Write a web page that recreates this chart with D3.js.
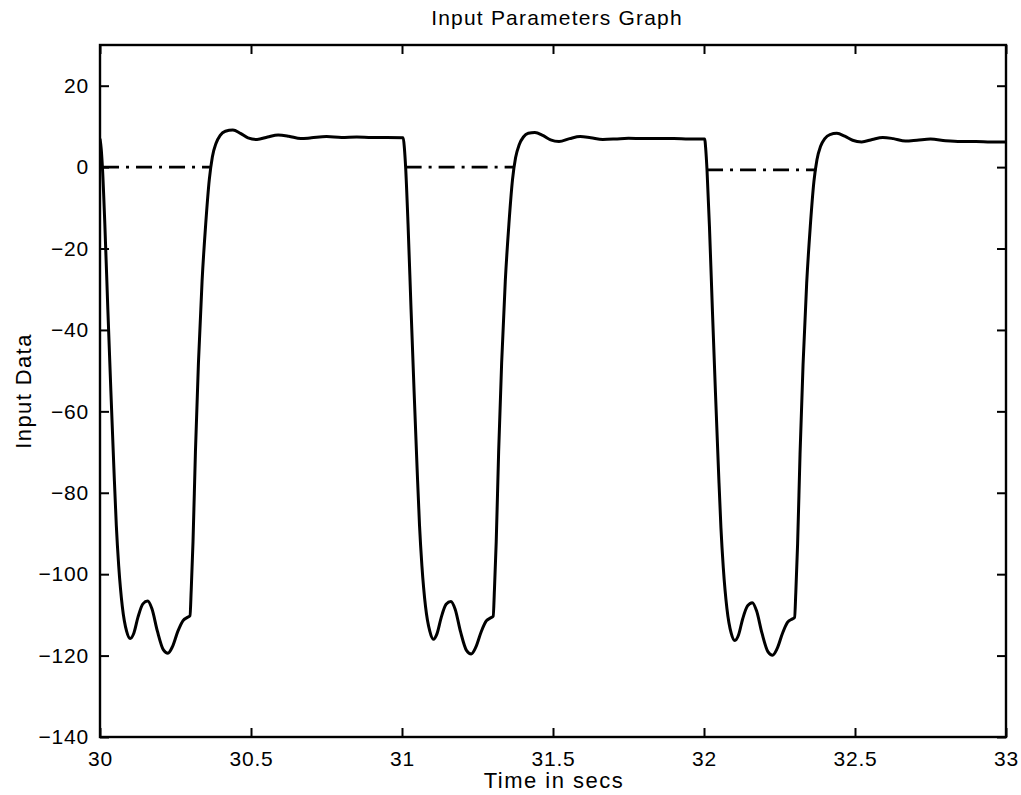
<!DOCTYPE html>
<html>
<head>
<meta charset="utf-8">
<script src="https://cdn.jsdelivr.net/npm/d3@7/dist/d3.min.js"></script>
<style>
  html, body { margin: 0; padding: 0; background: #fff; }
  svg { display: block; }
  text { font-family: "Liberation Sans", Arial, Helvetica, sans-serif; fill: #000; }
</style>
</head>
<body>
<svg id="chart" width="1021" height="795"></svg>
<script>
// ---- Data ----
const titleText = "Input Parameters Graph";
const xLabelText = "Time in secs";
const yLabelText = "Input Data";

const xTicks = [30, 30.5, 31, 31.5, 32, 32.5, 33];
const xTickLabels = ["30", "30.5", "31", "31.5", "32", "32.5", "33"];
const yTicks = [20, 0, -20, -40, -60, -80, -100, -120, -140];
const yTickLabels = ["20", "0", "\u221220", "\u221240", "\u221260", "\u221280", "\u2212100", "\u2212120", "\u2212140"];

// solid series: time (s) and value
const outputTime = [
  30.000, 30.004, 30.008, 30.016, 30.026, 30.036, 30.046, 30.054, 30.062, 30.074,
  30.088, 30.100, 30.112, 30.126, 30.142, 30.158, 30.172, 30.190, 30.210, 30.225,
  30.240, 30.258, 30.275, 30.290, 30.298, 30.302, 30.308, 30.316, 30.326, 30.338,
  30.350, 30.362, 30.372, 30.384, 30.398, 30.415, 30.440, 30.465, 30.490, 30.520,
  30.555, 30.590, 30.625, 30.665, 30.700, 30.750, 30.800, 30.850, 30.900, 30.950,
  31.004,
  31.008, 31.012, 31.020, 31.030, 31.040, 31.050, 31.058, 31.066, 31.078,
  31.092, 31.104, 31.116, 31.130, 31.146, 31.162, 31.176, 31.194, 31.214, 31.229,
  31.244, 31.262, 31.279, 31.294, 31.302, 31.306, 31.312, 31.320, 31.330, 31.342,
  31.354, 31.366, 31.376, 31.388, 31.402, 31.418, 31.440, 31.466, 31.492, 31.520,
  31.555, 31.590, 31.625, 31.665, 31.705, 31.750, 31.800, 31.850, 31.900, 31.950,
  32.002,
  32.006, 32.010, 32.018, 32.028, 32.038, 32.048, 32.056, 32.064, 32.076,
  32.090, 32.102, 32.114, 32.128, 32.144, 32.160, 32.174, 32.192, 32.212, 32.227,
  32.242, 32.260, 32.277, 32.292, 32.300, 32.304, 32.310, 32.318, 32.328, 32.340,
  32.352, 32.364, 32.374, 32.386, 32.400, 32.417, 32.440, 32.466, 32.492, 32.522,
  32.557, 32.592, 32.627, 32.667, 32.705, 32.750, 32.800, 32.850, 32.900, 32.950,
  33.000
];
const outputValue = [
  7.0, 4.5, 0, -14, -35, -55, -74, -88, -98, -108,
  -114, -115.8, -114.5, -110.5, -107.3, -106.6, -108.5, -114, -118.6, -119.4,
  -117.8, -114, -111.4, -110.6, -110.2, -104, -92, -70, -48, -28,
  -14, -3, 2.5, 5.8, 7.8, 8.8, 9.1, 8.3, 7.2, 6.8,
  7.4, 7.9, 7.6, 7.0, 7.2, 7.5, 7.3, 7.4, 7.3, 7.3,
  7.2,
  4.6, 0, -14, -35, -55, -74, -88, -98, -108,
  -114, -116, -114.6, -110.6, -107.4, -106.7, -108.6, -114.2, -118.8, -119.6,
  -118, -114.2, -111.5, -110.7, -110.3, -104, -92, -70, -48, -28,
  -14, -3, 2.3, 5.5, 7.4, 8.3, 8.5, 7.8, 6.7, 6.3,
  7.0, 7.5, 7.2, 6.8, 6.9, 7.1, 7.0, 7.0, 7.0, 6.9,
  6.9,
  4.2, -0.7, -14.5, -35.5, -55.5, -74.5, -88.5, -98.5, -108.5,
  -114.5, -116.3, -115, -111, -107.8, -107, -109, -114.5, -119.1, -119.9,
  -118.3, -114.5, -111.8, -111, -110.6, -104.5, -92.5, -70.5, -48.5, -28.5,
  -14.5, -3.5, 1.8, 5.1, 7.0, 8.0, 8.3, 7.6, 6.6, 6.2,
  6.8, 7.3, 7.0, 6.4, 6.6, 6.9, 6.5, 6.3, 6.3, 6.2,
  6.2
];

// dash-dot series (reference input), shown during the low phases
const inputSegments = [
  { t0: 30.010, t1: 30.364, v: 0 },
  { t0: 31.012, t1: 31.368, v: 0 },
  { t0: 32.010, t1: 32.372, v: -0.7 }
];

// ---- Layout ----
const svg = d3.select("#chart");
const margin = { left: 100, right: 1006, top: 45, bottom: 737 };

const x = d3.scaleLinear().domain([30, 33]).range([margin.left, margin.right]);
const y = d3.scaleLinear().domain([-140, 30]).range([margin.bottom, margin.top]);

const tickFont = 21;
const tickLen = 9;

const bottomAxis = d3.axisBottom(x).tickValues(xTicks)
  .tickFormat((d, i) => xTickLabels[i]).tickSizeInner(-tickLen).tickSizeOuter(0).tickPadding(14);
const topAxis = d3.axisTop(x).tickValues(xTicks).tickFormat("").tickSizeInner(-tickLen).tickSizeOuter(0);
const leftAxis = d3.axisLeft(y).tickValues(yTicks)
  .tickFormat((d, i) => yTickLabels[i]).tickSizeInner(-tickLen).tickSizeOuter(0).tickPadding(11);
const rightAxis = d3.axisRight(y).tickValues(yTicks).tickFormat("").tickSizeInner(-tickLen).tickSizeOuter(0);

function styleAxis(g) {
  g.select(".domain").remove();
  g.selectAll(".tick line").attr("stroke", "#000").attr("stroke-width", 2);
  g.selectAll(".tick text").attr("font-size", tickFont).attr("fill", "#000")
    .attr("letter-spacing", "0.8px")
    .attr("font-family", '"Liberation Sans", Arial, Helvetica, sans-serif');
}

svg.append("g").attr("transform", `translate(0,${margin.bottom})`).call(bottomAxis).call(styleAxis);
svg.append("g").attr("transform", `translate(0,${margin.top})`).call(topAxis).call(styleAxis);
svg.append("g").attr("transform", `translate(${margin.left},0)`).call(leftAxis).call(styleAxis);
svg.append("g").attr("transform", `translate(${margin.right},0)`).call(rightAxis).call(styleAxis);

svg.append("rect")
  .attr("x", margin.left).attr("y", margin.top)
  .attr("width", margin.right - margin.left).attr("height", margin.bottom - margin.top)
  .attr("fill", "none").attr("stroke", "#000").attr("stroke-width", 2.4);

svg.append("clipPath").attr("id", "plotclip").append("rect")
  .attr("x", margin.left).attr("y", margin.top)
  .attr("width", margin.right - margin.left).attr("height", margin.bottom - margin.top);

const plot = svg.append("g").attr("clip-path", "url(#plotclip)");

const dashLine = d3.line().x(d => x(d[0])).y(d => y(d[1]));
inputSegments.forEach(s => {
  plot.append("path")
    .attr("d", dashLine([[s.t0, s.v], [s.t1, s.v]]))
    .attr("fill", "none").attr("stroke", "#000").attr("stroke-width", 2.8)
    .attr("stroke-dasharray", "16,7,3,7");
});

const outData = outputTime.map((t, i) => [t, outputValue[i]]);
const solidLine = d3.line().x(d => x(d[0])).y(d => y(d[1])).curve(d3.curveMonotoneX);
plot.append("path")
  .attr("d", solidLine(outData))
  .attr("fill", "none").attr("stroke", "#000").attr("stroke-width", 3)
  .attr("stroke-linejoin", "round");

svg.append("text").attr("x", (margin.left + margin.right) / 2 + 4).attr("y", 25)
  .attr("text-anchor", "middle").attr("font-size", 21).attr("letter-spacing", "1.2px").text(titleText);
svg.append("text").attr("x", (margin.left + margin.right) / 2 + 1).attr("y", 788)
  .attr("text-anchor", "middle").attr("font-size", 22).attr("letter-spacing", "1.5px").text(xLabelText);
svg.append("text").attr("transform", `translate(31,${(margin.top + margin.bottom) / 2}) rotate(-90)`)
  .attr("text-anchor", "middle").attr("font-size", 22).attr("letter-spacing", "1.4px").text(yLabelText);
</script>
</body>
</html>
